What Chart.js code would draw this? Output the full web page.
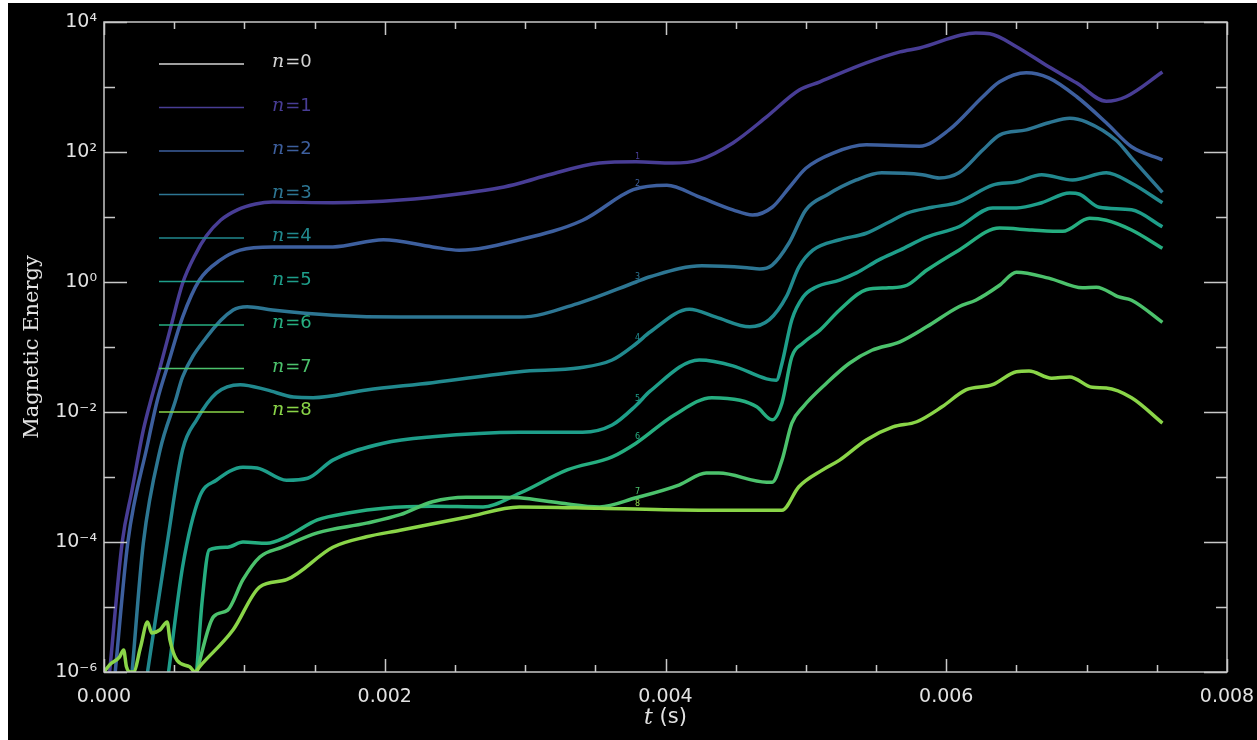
<!DOCTYPE html>
<html>
<head>
<meta charset="utf-8">
<script src="https://cdn.jsdelivr.net/npm/chart.js@4.4.1/dist/chart.umd.min.js"></script>
<style>
  html, body { margin: 0; padding: 0; background: #ffffff; width: 1257px; height: 740px; overflow: hidden; }
  #wrap { position: absolute; left: 8px; top: 3px; width: 1249px; height: 737px; background: #000; }
  canvas { display: block; }
</style>
</head>
<body>
<div id="wrap"><canvas id="c" width="1249" height="737"></canvas></div>
<script>
// ---- data: [time (s), log10(magnetic energy)] ----
const seriesLabels = ['n=0', 'n=1', 'n=2', 'n=3', 'n=4', 'n=5', 'n=6', 'n=7', 'n=8'];
const seriesColors = ['#d4d4d4', '#483d95', '#3d5f9e', '#2d7693', '#21898e', '#1e9e8a', '#26ae80', '#4cc26c', '#8ad548'];

const n0Points = [];
const n1Points = [[0.00004,-6],[0.00013,-4],[0.00020,-3.2],[0.00028,-2.28],[0.00034,-1.77],[0.00040,-1.31],[0.00047,-0.74],[0.00056,-0.02],[0.00065,0.42],[0.00073,0.71],[0.00083,0.95],[0.00095,1.11],[0.00108,1.2],[0.00120,1.23],[0.00163,1.22],[0.00211,1.26],[0.00258,1.37],[0.00282,1.45],[0.00296,1.52],[0.00317,1.65],[0.00353,1.83],[0.00379,1.85],[0.00405,1.83],[0.00424,1.88],[0.00448,2.14],[0.00472,2.54],[0.00495,2.95],[0.00510,3.08],[0.00543,3.37],[0.00567,3.54],[0.00581,3.6],[0.00621,3.83],[0.00631,3.82],[0.00650,3.62],[0.00673,3.31],[0.00693,3.06],[0.00714,2.78],[0.00728,2.85],[0.00754,3.23]];
const n2Points = [[0.00008,-6],[0.00017,-4],[0.00031,-2.5],[0.00038,-1.82],[0.00045,-1.31],[0.00056,-0.54],[0.00068,0.03],[0.00083,0.34],[0.00097,0.49],[0.00120,0.54],[0.00163,0.54],[0.00199,0.65],[0.00234,0.54],[0.00253,0.49],[0.00296,0.65],[0.00341,0.95],[0.00377,1.42],[0.00401,1.49],[0.00424,1.31],[0.00448,1.11],[0.00462,1.03],[0.00476,1.15],[0.00488,1.45],[0.00500,1.75],[0.00519,1.98],[0.00543,2.11],[0.00581,2.09],[0.00602,2.34],[0.00626,2.85],[0.00638,3.08],[0.00657,3.22],[0.00673,3.14],[0.00693,2.85],[0.00714,2.45],[0.00732,2.08],[0.00754,1.88]];
const n3Points = [[0.00020,-6],[0.00028,-4.02],[0.00040,-2.58],[0.00051,-1.82],[0.00056,-1.46],[0.00073,-0.85],[0.00092,-0.43],[0.00102,-0.38],[0.00120,-0.43],[0.00163,-0.51],[0.00211,-0.54],[0.00296,-0.54],[0.00339,-0.32],[0.00379,0.0],[0.00389,0.08],[0.00426,0.25],[0.00458,0.22],[0.00467,0.2],[0.00476,0.26],[0.00488,0.6],[0.00500,1.11],[0.00515,1.34],[0.00536,1.57],[0.00554,1.68],[0.00583,1.65],[0.00595,1.6],[0.00609,1.68],[0.00626,2.03],[0.00638,2.26],[0.00657,2.34],[0.00673,2.45],[0.00688,2.52],[0.00700,2.46],[0.00721,2.18],[0.00732,1.91],[0.00754,1.38]];
const n4Points = [[0.00031,-6],[0.00045,-4.02],[0.00056,-2.58],[0.00066,-2.12],[0.00080,-1.71],[0.00097,-1.58],[0.00116,-1.66],[0.00135,-1.77],[0.00149,-1.78],[0.00187,-1.66],[0.00234,-1.55],[0.00296,-1.38],[0.00339,-1.32],[0.00362,-1.2],[0.00379,-0.95],[0.00389,-0.77],[0.00417,-0.42],[0.00436,-0.54],[0.00460,-0.69],[0.00474,-0.58],[0.00486,-0.23],[0.00495,0.23],[0.00505,0.49],[0.00524,0.65],[0.00543,0.75],[0.00559,0.92],[0.00572,1.06],[0.00590,1.15],[0.00609,1.23],[0.00633,1.49],[0.00650,1.54],[0.00668,1.65],[0.00690,1.57],[0.00714,1.68],[0.00732,1.52],[0.00754,1.22]];
const n5Points = [[0.00046,-6],[0.00056,-4.38],[0.00068,-3.31],[0.00080,-3.05],[0.00099,-2.85],[0.00109,-2.86],[0.00130,-3.05],[0.00145,-3.02],[0.00163,-2.74],[0.00199,-2.48],[0.00234,-2.38],[0.00296,-2.31],[0.00341,-2.31],[0.00362,-2.2],[0.00379,-1.9],[0.00389,-1.68],[0.00424,-1.2],[0.00448,-1.29],[0.00472,-1.49],[0.00479,-1.51],[0.00483,-1.25],[0.00490,-0.58],[0.00498,-0.23],[0.00507,-0.08],[0.00524,0.03],[0.00536,0.14],[0.00552,0.34],[0.00567,0.49],[0.00586,0.69],[0.00609,0.85],[0.00633,1.14],[0.00650,1.14],[0.00668,1.22],[0.00688,1.37],[0.00695,1.35],[0.00709,1.15],[0.00732,1.11],[0.00754,0.85]];
const n6Points = [[0.00066,-6],[0.00070,-4.89],[0.00075,-4.12],[0.00088,-4.08],[0.00099,-4.0],[0.00116,-4.02],[0.00130,-3.92],[0.00152,-3.66],[0.00175,-3.55],[0.00199,-3.48],[0.00234,-3.45],[0.00270,-3.46],[0.00296,-3.25],[0.00330,-2.89],[0.00362,-2.69],[0.00379,-2.48],[0.00406,-2.05],[0.00433,-1.78],[0.00453,-1.82],[0.00465,-1.92],[0.00476,-2.12],[0.00483,-1.86],[0.00490,-1.15],[0.00498,-0.94],[0.00510,-0.74],[0.00524,-0.43],[0.00543,-0.12],[0.00559,-0.09],[0.00572,-0.05],[0.00586,0.18],[0.00609,0.49],[0.00638,0.83],[0.00661,0.8],[0.00683,0.78],[0.00702,0.98],[0.00714,0.95],[0.00732,0.8],[0.00754,0.52]];
const n7Points = [[0.00066,-6],[0.00078,-5.15],[0.00088,-5.05],[0.00099,-4.58],[0.00111,-4.23],[0.00127,-4.08],[0.00152,-3.86],[0.00187,-3.71],[0.00211,-3.58],[0.00234,-3.38],[0.00258,-3.31],[0.00282,-3.31],[0.00296,-3.32],[0.00325,-3.4],[0.00353,-3.46],[0.00379,-3.32],[0.00410,-3.12],[0.00429,-2.94],[0.00438,-2.94],[0.00472,-3.08],[0.00476,-3.08],[0.00483,-2.74],[0.00490,-2.17],[0.00498,-1.92],[0.00515,-1.55],[0.00531,-1.25],[0.00547,-1.05],[0.00567,-0.92],[0.00586,-0.69],[0.00609,-0.38],[0.00621,-0.28],[0.00638,-0.05],[0.00650,0.15],[0.00673,0.06],[0.00697,-0.09],[0.00707,-0.08],[0.00723,-0.23],[0.00732,-0.28],[0.00754,-0.62]];
const n8Points = [[0,-6],[0.00004,-5.89],[0.00011,-5.77],[0.00014,-5.66],[0.00016,-5.92],[0.00019,-6],[0.00021,-6],[0.00026,-5.62],[0.00031,-5.23],[0.00034,-5.4],[0.00040,-5.35],[0.00045,-5.23],[0.00047,-5.51],[0.00052,-5.82],[0.00061,-5.92],[0.00065,-6],[0.00068,-5.92],[0.00092,-5.35],[0.00111,-4.69],[0.00130,-4.58],[0.00163,-4.08],[0.00187,-3.92],[0.00211,-3.82],[0.00258,-3.62],[0.00296,-3.46],[0.00353,-3.48],[0.00424,-3.51],[0.00483,-3.51],[0.00495,-3.15],[0.00512,-2.89],[0.00524,-2.74],[0.00543,-2.43],[0.00562,-2.23],[0.00579,-2.15],[0.00597,-1.92],[0.00614,-1.66],[0.00633,-1.58],[0.00650,-1.38],[0.00659,-1.37],[0.00675,-1.48],[0.00688,-1.46],[0.00704,-1.62],[0.00714,-1.63],[0.00732,-1.78],[0.00754,-2.17]];

const allPoints = [n0Points, n1Points, n2Points, n3Points, n4Points, n5Points, n6Points, n7Points, n8Points];

// axis ticks
const xTickValues = [0, 0.002, 0.004, 0.006, 0.008];
const yTickExponents = [-6, -4, -2, 0, 2, 4];
const inlineLabelTime = 0.0038;

// ---- build chart ----
const SUP = {'-':'\u207B','0':'\u2070','1':'\u00B9','2':'\u00B2','3':'\u00B3','4':'\u2074','5':'\u2075','6':'\u2076','7':'\u2077','8':'\u2078','9':'\u2079'};
const sup = (n) => String(n).split('').map(c => SUP[c]).join('');

const datasets = allPoints.map((pts, i) => ({
  label: seriesLabels[i],
  data: pts.map(([t, lg]) => ({ x: t, y: Math.pow(10, lg) })),
  borderColor: seriesColors[i],
  backgroundColor: seriesColors[i],
  borderWidth: 3.5,
  pointRadius: 0,
  fill: false,
  cubicInterpolationMode: 'monotone',
  order: 8 - i
}));

const AXIS_COL = '#c8c8c8';
const TEXT_COL = '#e2e2e2';

const idlPlugin = {
  id: 'idlAxes',
  afterDraw(chart) {
    const ctx = chart.ctx;
    const { left, right, top, bottom } = chart.chartArea;
    const xs = chart.scales.x, ys = chart.scales.y;
    ctx.save();
    // box
    ctx.strokeStyle = AXIS_COL;
    ctx.lineWidth = 1.5;
    ctx.strokeRect(left, top, right - left, bottom - top);
    ctx.beginPath();
    // x ticks (major + minor), bottom and top, inward
    const xStep = (xTickValues[1] - xTickValues[0]) / 4;
    for (let k = 0; k <= (xTickValues[xTickValues.length - 1] - xTickValues[0]) / xStep + 1e-9; k++) {
      const v = xTickValues[0] + k * xStep;
      const px = Math.round(xs.getPixelForValue(v)) + 0.5;
      const len = (k % 4 === 0) ? 13 : 7;
      ctx.moveTo(px, bottom); ctx.lineTo(px, bottom - len);
      ctx.moveTo(px, top); ctx.lineTo(px, top + len);
    }
    // y ticks (major at labelled decades, minor between), left and right, inward
    const e0 = yTickExponents[0], e1 = yTickExponents[yTickExponents.length - 1];
    for (let e = e0; e <= e1; e++) {
      const py = Math.round(ys.getPixelForValue(Math.pow(10, e))) + 0.5;
      const len = yTickExponents.includes(e) ? 23 : 11;
      ctx.moveTo(left, py); ctx.lineTo(left + len, py);
      ctx.moveTo(right, py); ctx.lineTo(right - len, py);
    }
    ctx.stroke();

    // axis titles
    ctx.fillStyle = TEXT_COL;
    ctx.textBaseline = 'middle';
    const xc = (left + right) / 2, yc = 715;
    ctx.font = 'italic 22px "DejaVu Serif"';
    const wT = ctx.measureText('t').width;
    ctx.font = '21px "DejaVu Sans"';
    const wS = ctx.measureText(' (s)').width;
    let sx = xc - (wT + wS) / 2;
    ctx.textAlign = 'left';
    ctx.font = 'italic 22px "DejaVu Serif"';
    ctx.fillText('t', sx, yc);
    ctx.font = '21px "DejaVu Sans"';
    ctx.fillText(' (s)', sx + wT, yc);
    ctx.save();
    ctx.translate(25, 344);
    ctx.rotate(-Math.PI / 2);
    ctx.textAlign = 'center';
    ctx.font = '21px "DejaVu Serif"';
    ctx.fillText('Magnetic Energy', 0, 0);
    ctx.restore();

    // legend (IDL style)
    for (let i = 0; i < seriesLabels.length; i++) {
      const ly = 61 + i * 43.5;
      ctx.strokeStyle = seriesColors[i];
      ctx.lineWidth = 1.5;
      ctx.beginPath();
      ctx.moveTo(151, ly); ctx.lineTo(236, ly);
      ctx.stroke();
      ctx.fillStyle = seriesColors[i];
      ctx.textAlign = 'left';
      ctx.textBaseline = 'alphabetic';
      const lab = seriesLabels[i];
      ctx.font = 'italic 19px "DejaVu Serif"';
      ctx.fillText(lab[0], 264, ly + 3);
      const w = ctx.measureText(lab[0]).width;
      ctx.font = '18px "DejaVu Sans"';
      ctx.fillText(lab.slice(1), 264 + w + 1, ly + 3);
    }

    // small inline curve labels
    ctx.font = '8px "DejaVu Sans"';
    ctx.textAlign = 'center';
    ctx.textBaseline = 'bottom';
    for (let i = 1; i < allPoints.length; i++) {
      const pts = allPoints[i];
      let lg = null;
      for (let j = 0; j < pts.length - 1; j++) {
        if (pts[j][0] <= inlineLabelTime && pts[j + 1][0] >= inlineLabelTime) {
          const f = (inlineLabelTime - pts[j][0]) / (pts[j + 1][0] - pts[j][0]);
          lg = pts[j][1] + f * (pts[j + 1][1] - pts[j][1]);
          break;
        }
      }
      if (lg === null) continue;
      ctx.fillStyle = seriesColors[i];
      ctx.fillText(String(i), xs.getPixelForValue(inlineLabelTime), ys.getPixelForValue(Math.pow(10, lg)) - 1);
    }
    ctx.restore();
  }
};

new Chart(document.getElementById('c'), {
  type: 'line',
  data: { datasets },
  options: {
    responsive: false,
    animation: false,
    devicePixelRatio: 1,
    layout: { padding: { left: 0, top: 19, right: 30, bottom: 0 } },
    plugins: { legend: { display: false }, tooltip: { enabled: false } },
    scales: {
      x: {
        type: 'linear',
        min: 0, max: 0.008,
        afterBuildTicks: (s) => { s.ticks = xTickValues.map(v => ({ value: v })); },
        afterFit: (s) => { s.height = 68; s.paddingLeft = 0; s.paddingRight = 0; },
        grid: { display: false, drawTicks: false },
        border: { display: false },
        ticks: {
          autoSkip: false, maxRotation: 0,
          color: TEXT_COL, padding: 14,
          font: { family: 'DejaVu Sans', size: 19 },
          callback: (v) => Number(v).toFixed(3)
        }
      },
      y: {
        type: 'logarithmic',
        min: 1e-6, max: 1e4,
        afterBuildTicks: (s) => { s.ticks = yTickExponents.map(e => ({ value: Math.pow(10, e) })); },
        afterFit: (s) => { s.width = 96; s.paddingTop = 0; s.paddingBottom = 0; },
        grid: { display: false, drawTicks: false },
        border: { display: false },
        ticks: {
          autoSkip: false,
          color: TEXT_COL, padding: 7,
          font: { family: 'DejaVu Sans', size: 19 },
          callback: (v) => '10' + sup(Math.round(Math.log10(v)))
        }
      }
    }
  },
  plugins: [idlPlugin]
});
</script>
</body>
</html>
